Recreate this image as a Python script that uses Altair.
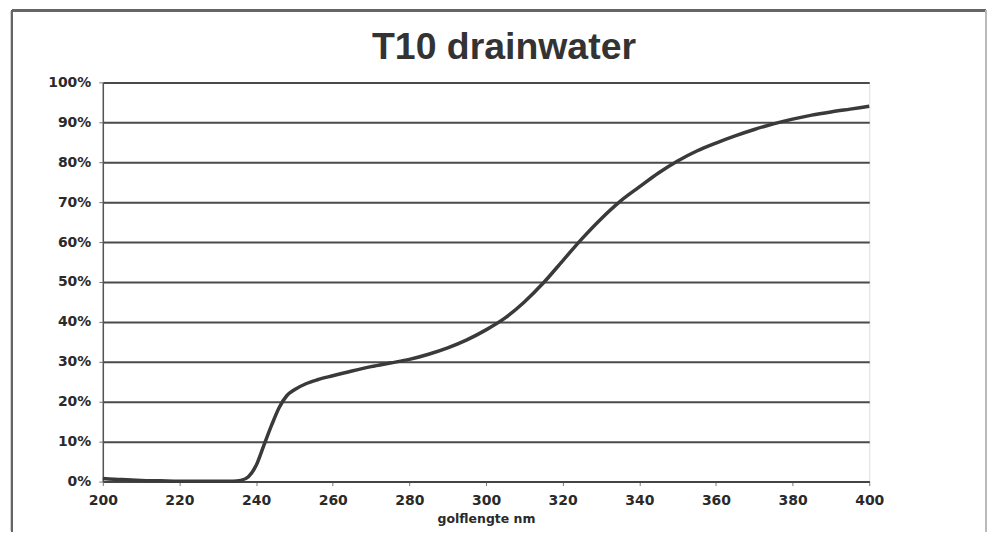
import altair as alt
import pandas as pd

wavelength = [200, 205, 210, 215, 220, 225, 230, 234, 236, 238, 240, 242, 244, 246, 248, 250,
              253, 256, 260, 265, 270, 275, 280, 285, 290, 295, 300, 305, 310, 315, 320, 325,
              330, 335, 340, 345, 350, 355, 360, 365, 370, 375, 380, 385, 390, 395, 400]
transmission_pct = [0.8, 0.5, 0.3, 0.2, 0.1, 0.1, 0.1, 0.1, 0.3, 1.2, 4, 9, 14, 18.5, 21.5, 23,
                    24.5, 25.5, 26.5, 27.7, 28.8, 29.7, 30.6, 31.9, 33.5, 35.5, 38, 41, 45, 49.8, 55.3, 60.8,
                    65.8, 70.2, 73.8, 77.3, 80.3, 82.8, 84.8, 86.6, 88.2, 89.6, 90.8, 91.8, 92.6, 93.3, 94]
x_ticks = [200, 220, 240, 260, 280, 300, 320, 340, 360, 380, 400]
y_ticks = [0, 0.1, 0.2, 0.3, 0.4, 0.5, 0.6, 0.7, 0.8, 0.9, 1.0]

df = pd.DataFrame({"wl": wavelength, "t": [v / 100 for v in transmission_pct]})

W, H = 768, 400
PAD_L, PAD_T, PAD_R, PAD_B = 95, 74, 120, 50

label_font = "DejaVu Sans"

line = alt.Chart(df).mark_line(
    color="#3a3a3a", strokeWidth=3.5, interpolate="monotone"
).encode(
    x=alt.X("wl:Q", scale=alt.Scale(domain=[200, 400], nice=False, zero=False),
            axis=alt.Axis(values=x_ticks, grid=False, tickSize=4, tickColor="#777",
                          domainColor="#444", domainWidth=2, labelPadding=8,
                          labelFont=label_font, labelFontSize=14, labelFontWeight="bold",
                          labelColor="#2a2a2a", title="golflengte nm", titleFont=label_font,
                          titleFontSize=12.5, titleFontWeight="bold", titleColor="#2a2a2a",
                          titlePadding=5, labelFlush=False)),
    y=alt.Y("t:Q", scale=alt.Scale(domain=[0, 1], nice=False),
            axis=alt.Axis(values=y_ticks, format=".0%", grid=True, gridColor="#4a4a4a",
                          gridWidth=2, tickSize=4, tickColor="#777", domainColor="#555",
                          domainWidth=1.5, labelPadding=8, labelFont=label_font,
                          labelFontSize=14, labelFontWeight="bold", labelColor="#2a2a2a",
                          title=None, labelFlush=False)),
)

frame_stroke = "#666"
frame_left = alt.Chart(df).mark_rule(color=frame_stroke, strokeWidth=2, clip=False).encode(
    x=alt.value(-91), y=alt.value(-72), y2=alt.value(H + PAD_B))
frame_top = alt.Chart(df).mark_rule(color=frame_stroke, strokeWidth=2, clip=False).encode(
    x=alt.value(-91), x2=alt.value(885), y=alt.value(-72))
frame_right = alt.Chart(df).mark_rule(color="#bbb", strokeWidth=1.5, clip=False).encode(
    x=alt.value(885), y=alt.value(-72), y2=alt.value(H + PAD_B))

chart = alt.layer(line, frame_left, frame_top, frame_right).properties(
    width=W, height=H,
    autosize=alt.AutoSizeParams(type="none"),
    padding={"left": PAD_L, "top": PAD_T, "right": PAD_R, "bottom": PAD_B},
    title=alt.TitleParams("T10 drainwater", font="Liberation Sans", fontSize=37.5,
                          fontWeight="bold", color="#333", anchor="middle", dx=18,
                          baseline="alphabetic", offset=-87),
).configure_view(
    fill="#f5f5f5", stroke="#888", strokeWidth=1
).configure(background="white")

chart.save("out.html", embed_options={"renderer": "svg", "actions": False})
